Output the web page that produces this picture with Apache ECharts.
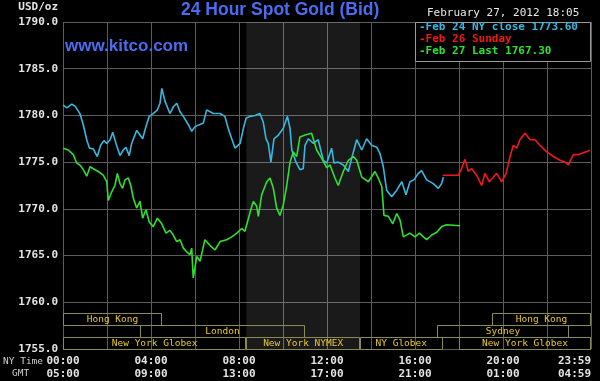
<!DOCTYPE html>
<html>
<head>
<meta charset="utf-8">
<script src="https://cdn.jsdelivr.net/npm/echarts@6/dist/echarts.min.js"></script>
<style>
html,body{margin:0;padding:0;background:#000;}
#chart{width:600px;height:381px;}
</style>
</head>
<body>
<div id="chart"></div>
<script>
// ---- data ----
const titleText = '24 Hour Spot Gold (Bid)';
const siteText = 'www.kitco.com';
const dateText = 'February 27, 2012 18:05';
const unitText = 'USD/oz';
const legendLabels = ['Feb 24 NY close 1773.60', 'Feb 26 Sunday', 'Feb 27 Last 1767.30'];

const nyTimeTicks = ['00:00', '04:00', '08:00', '12:00', '16:00', '20:00', '23:59'];
const gmtTicks = ['05:00', '09:00', '13:00', '17:00', '21:00', '01:00', '04:59'];

// Feb 24 NY close (hours since 00:00 NY time, price)
const hoursFeb24 = [0.01,0.17,0.40,0.55,0.77,0.92,1.08,1.20,1.38,1.56,1.71,1.86,1.99,2.14,2.26,2.41,2.59,2.74,2.86,3.01,3.12,3.35,3.50,3.62,3.77,3.92,4.10,4.29,4.41,4.49,4.64,4.86,5.01,5.17,5.32,5.47,5.70,5.85,6.00,6.38,6.53,6.83,7.14,7.36,7.51,7.67,7.82,8.05,8.20,8.32,8.50,8.73,8.95,9.10,9.23,9.33,9.45,9.59,9.79,10.01,10.20,10.32,10.40,10.59,10.77,10.92,11.00,11.15,11.38,11.60,11.83,11.99,12.21,12.32,12.51,12.74,12.97,13.12,13.35,13.58,13.80,14.03,14.26,14.41,14.56,14.71,14.94,15.17,15.40,15.59,15.77,15.95,16.15,16.30,16.53,16.83,17.06,17.21,17.29];
const valuesFeb24 = [1781.1,1780.8,1781.2,1781.0,1780.2,1779.0,1777.4,1776.5,1776.4,1775.6,1776.8,1777.3,1777.0,1777.4,1778.2,1777.0,1775.7,1776.3,1776.6,1775.7,1777.0,1778.4,1777.9,1777.5,1778.8,1779.9,1780.2,1780.6,1781.3,1782.9,1781.5,1780.2,1780.9,1781.3,1780.4,1779.9,1779.0,1778.3,1778.8,1779.2,1780.6,1780.2,1780.2,1779.9,1778.6,1777.5,1776.5,1777.0,1778.6,1779.7,1779.9,1780.0,1780.2,1779.3,1777.5,1777.0,1775.0,1777.5,1777.9,1778.6,1779.9,1778.6,1776.3,1775.0,1774.2,1774.3,1776.8,1777.5,1777.0,1777.4,1775.2,1774.9,1776.5,1774.9,1775.0,1774.7,1774.0,1775.4,1777.4,1776.3,1777.5,1776.8,1776.6,1775.9,1774.5,1772.0,1771.3,1772.0,1772.9,1771.5,1772.9,1773.1,1773.8,1774.1,1773.1,1772.7,1772.2,1772.7,1773.4];

// Feb 26 Sunday
const hoursFeb26 = [17.26,17.97,18.12,18.27,18.42,18.58,18.80,19.03,19.18,19.38,19.53,19.71,19.94,20.14,20.32,20.47,20.62,20.77,21.00,21.23,21.45,21.68,21.99,22.29,22.59,22.82,22.97,23.20,23.42,23.65,23.88,23.95];
const valuesFeb26 = [1773.6,1773.6,1774.3,1775.3,1774.0,1774.3,1773.6,1772.5,1773.8,1772.9,1773.3,1773.8,1772.9,1773.8,1775.6,1776.8,1776.5,1777.4,1778.1,1777.4,1777.4,1776.8,1776.1,1775.6,1775.2,1775.0,1774.7,1775.8,1775.8,1776.0,1776.2,1776.3];

// Feb 27 Last
const hoursFeb27 = [0.01,0.24,0.47,0.62,0.77,0.92,1.08,1.23,1.38,1.60,1.83,1.99,2.06,2.21,2.36,2.47,2.59,2.71,2.82,2.97,3.08,3.20,3.35,3.50,3.62,3.77,3.92,4.10,4.29,4.49,4.68,4.86,5.01,5.17,5.32,5.47,5.62,5.77,5.85,5.92,6.08,6.23,6.45,6.68,6.91,7.14,7.44,7.67,7.90,8.12,8.27,8.50,8.65,8.80,8.88,9.03,9.26,9.41,9.56,9.71,9.86,10.01,10.17,10.32,10.47,10.62,10.77,11.00,11.30,11.53,11.76,11.99,12.14,12.36,12.51,12.74,12.97,13.20,13.35,13.58,13.88,14.18,14.33,14.49,14.59,14.79,14.99,15.17,15.32,15.47,15.77,16.00,16.20,16.38,16.53,16.76,16.99,17.21,17.44,18.05];
const valuesFeb27 = [1776.5,1776.3,1775.8,1774.9,1774.7,1774.2,1773.5,1774.5,1774.3,1774.0,1773.6,1772.9,1770.9,1771.8,1772.5,1773.8,1772.7,1772.2,1773.1,1773.3,1772.5,1771.1,1770.1,1770.8,1769.0,1769.9,1768.6,1768.1,1769.0,1768.4,1767.4,1767.7,1767.2,1766.5,1766.7,1765.8,1765.4,1765.1,1765.8,1762.6,1764.9,1764.4,1766.7,1766.1,1765.6,1766.5,1766.7,1767.0,1767.4,1767.9,1767.6,1769.6,1770.8,1770.3,1769.2,1771.5,1772.9,1773.3,1772.2,1770.1,1769.3,1770.4,1772.5,1775.0,1776.1,1775.6,1777.7,1777.9,1778.1,1776.3,1775.4,1774.4,1774.7,1773.3,1772.5,1774.0,1775.2,1775.6,1775.2,1773.4,1772.9,1774.0,1773.3,1772.4,1769.3,1769.2,1768.4,1769.5,1768.8,1767.0,1767.4,1767.0,1767.4,1767.0,1766.7,1767.2,1767.5,1768.1,1768.3,1768.2];

// trading sessions: start hour, end hour, row, name
const sessionNames = ['Hong Kong', 'Hong Kong', 'London', 'Sydney', 'New York Globex', 'New York NYMEX', 'NY Globex', 'New York Globex'];
const sessionStart = [0, 19.5, 3.5, 17.0, 0, 8.333, 13.5, 18.0];
const sessionEnd = [4.5, 24, 11.0, 23.0, 8.333, 13.5, 17.25, 24];
const sessionRow = [0, 0, 1, 1, 2, 2, 2, 2];
const rowTop = [1758.9, 1757.6, 1756.3];
const rowBottom = [1757.6, 1756.3, 1755.0];

// NYMEX pit hours shaded
const nymexStart = 8.333, nymexEnd = 13.5;

// ---- chart ----
const colors = ['#38b8e0', '#f01818', '#30e030'];
const mono = '"DejaVu Sans Mono", monospace';
const zip = (h, v) => h.map((x, i) => [x, v[i]]);

const chart = echarts.init(document.getElementById('chart'), null, {renderer: 'canvas'});

const sessionData = sessionNames.map((n, i) => ({name: n, value: [sessionStart[i], sessionEnd[i], sessionRow[i]]}));

const option = {
  backgroundColor: '#000',
  animation: false,
  grid: {left: 63, right: 9, top: 22, bottom: 32, containLabel: false},
  xAxis: {
    type: 'value', min: 0, max: 24, interval: 2,
    axisLine: {show: false}, axisTick: {show: false},
    splitLine: {show: true, lineStyle: {color: '#5c5c5c', width: 1}},
    axisLabel: {
      interval: 0, showMinLabel: true, showMaxLabel: true, hideOverlap: false,
      alignMaxLabel: 'right',
      color: '#e4e4e4', fontFamily: mono, fontSize: 11, fontWeight: 'bold',
      lineHeight: 13, margin: 6,
      formatter: function (v) {
        let idx = -1;
        if (v === 24) idx = 6; else if (v % 4 === 0) idx = v / 4;
        return idx < 0 ? '' : nyTimeTicks[idx] + '\n' + gmtTicks[idx];
      }
    }
  },
  yAxis: {
    type: 'value', min: 1755, max: 1790, interval: 5,
    axisLine: {show: false}, axisTick: {show: false},
    splitLine: {show: true, lineStyle: {color: '#5c5c5c', width: 1}},
    axisLabel: {color: '#e4e4e4', fontFamily: mono, fontSize: 11, fontWeight: 'bold', margin: 5,
      formatter: v => v.toFixed(1)}
  },
  series: [
    {
      type: 'custom', name: 'sessions', z: 3, silent: true,
      data: sessionData,
      renderItem: function (params, api) {
        const s = api.value(0), e = api.value(1), r = api.value(2);
        const p1 = api.coord([s, rowTop[r]]);
        const p2 = api.coord([e, rowBottom[r]]);
        const name = sessionNames[params.dataIndex];
        return {
          type: 'group',
          children: [
            {type: 'rect', shape: {x: Math.round(p1[0]) + 0.5, y: Math.round(p1[1]) + 0.5, width: Math.round(p2[0] - p1[0]) - 1, height: Math.round(p2[1] - p1[1])},
             style: {fill: 'rgba(0,0,0,0)', stroke: '#8a8a58', lineWidth: 1}},
            {type: 'text', style: {text: name, x: (p1[0] + p2[0]) / 2, y: (p1[1] + p2[1]) / 2 + 1,
              align: 'center', verticalAlign: 'middle', fill: '#e8c830', font: '9.5px ' + mono}}
          ]
        };
      }
    },
    {
      type: 'line', name: legendLabels[0], data: zip(hoursFeb24, valuesFeb24),
      showSymbol: false, symbol: 'none', lineStyle: {color: colors[0], width: 1.6}, z: 4,
      markArea: {silent: true, itemStyle: {color: 'rgba(255,255,255,0.10)'},
        data: [[{xAxis: nymexStart}, {xAxis: nymexEnd}]]}
    },
    {
      type: 'line', name: legendLabels[1], data: zip(hoursFeb26, valuesFeb26),
      showSymbol: false, symbol: 'none', lineStyle: {color: colors[1], width: 1.6}, z: 4
    },
    {
      type: 'line', name: legendLabels[2], data: zip(hoursFeb27, valuesFeb27),
      showSymbol: false, symbol: 'none', lineStyle: {color: colors[2], width: 1.6}, z: 5
    }
  ],
  graphic: [
    {type: 'text', left: 'center', top: 0, z: 10, style: {text: titleText, x: 0, fill: '#4a6cf0', font: 'bold 17.5px "Liberation Sans", Arial, sans-serif'}, left: 181, top: 1},
    {type: 'text', left: 65, top: 38, z: 10, style: {text: siteText, fill: '#4a6cf0', font: 'bold 17px "Liberation Sans", Arial, sans-serif'}},
    {type: 'text', left: 427, top: 8, z: 10, style: {text: dateText, fill: '#e8e8e8', font: '11px ' + mono}},
    {type: 'text', right: 542, top: 2, z: 10, style: {text: unitText, fill: '#e4e4e4', font: 'bold 11px ' + mono}},
    {type: 'text', left: 3, top: 357, z: 10, style: {text: 'NY Time', fill: '#cfcfcf', font: '9.5px ' + mono}},
    {type: 'text', left: 12, top: 369, z: 10, style: {text: 'GMT', fill: '#cfcfcf', font: '9.5px ' + mono}},
    {type: 'rect', left: 415, top: 22, z: 10, shape: {width: 175, height: 39}, style: {fill: '#000', stroke: '#9a9a9a', lineWidth: 1}},
    {type: 'text', left: 419, top: 22, z: 11, style: {text: '-' + legendLabels[0], fill: colors[0], font: 'bold 11px ' + mono}},
    {type: 'text', left: 419, top: 34, z: 11, style: {text: '-' + legendLabels[1], fill: colors[1], font: 'bold 11px ' + mono}},
    {type: 'text', left: 419, top: 46, z: 11, style: {text: '-' + legendLabels[2], fill: colors[2], font: 'bold 11px ' + mono}}
  ]
};
chart.setOption(option);
</script>
</body>
</html>
